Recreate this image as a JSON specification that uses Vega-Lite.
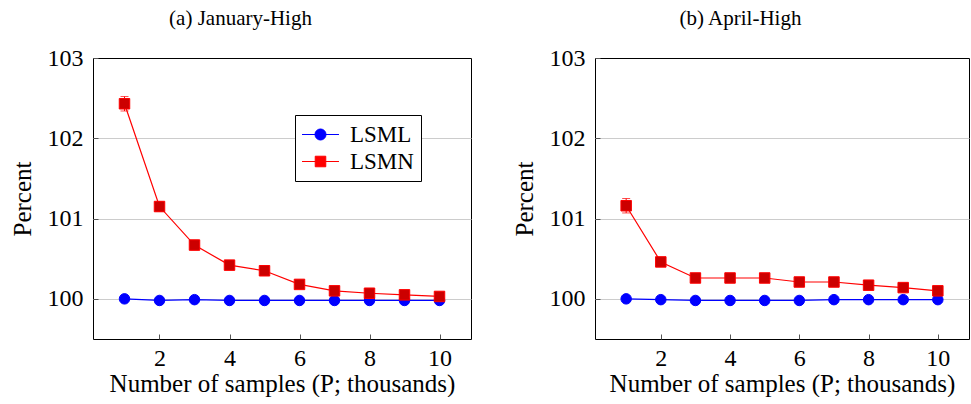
{
  "$schema": "https://vega.github.io/schema/vega-lite/v6.json",
  "padding": {"left": 9, "top": 7, "right": 0, "bottom": 0},
  "spacing": 39,
  "config": {
    "font": "Liberation Serif",
    "view": {"stroke": "black", "strokeWidth": 1},
    "style": {"guide-label": {"font": "Liberation Serif"}, "guide-title": {"font": "Liberation Serif"}},
    "axis": {
      "labelFont": "Liberation Serif", "titleFont": "Liberation Serif",
      "labelFontSize": 24, "titleFontSize": 25, "titleFontWeight": "normal",
      "labelColor": "black", "titleColor": "black",
      "domain": false, "tickColor": "#555555", "grid": false
    },
    "legend": {"labelFont": "Liberation Serif"},
    "title": {"font": "Liberation Serif", "fontSize": 21, "fontWeight": "normal", "color": "black"}
  },
  "datasets": {
    "jan": [
      {"p": 1, "series": "LSML", "v": 100.00, "lo": 99.99, "hi": 100.01},
      {"p": 2, "series": "LSML", "v": 99.98, "lo": 99.97, "hi": 99.99},
      {"p": 3, "series": "LSML", "v": 99.99, "lo": 99.98, "hi": 100.00},
      {"p": 4, "series": "LSML", "v": 99.98, "lo": 99.97, "hi": 99.99},
      {"p": 5, "series": "LSML", "v": 99.98, "lo": 99.97, "hi": 99.99},
      {"p": 6, "series": "LSML", "v": 99.98, "lo": 99.97, "hi": 99.99},
      {"p": 7, "series": "LSML", "v": 99.98, "lo": 99.97, "hi": 99.99},
      {"p": 8, "series": "LSML", "v": 99.98, "lo": 99.97, "hi": 99.99},
      {"p": 9, "series": "LSML", "v": 99.98, "lo": 99.97, "hi": 99.99},
      {"p": 10, "series": "LSML", "v": 99.98, "lo": 99.97, "hi": 99.99},
      {"p": 1, "series": "LSMN", "v": 102.43, "lo": 102.34, "hi": 102.52},
      {"p": 2, "series": "LSMN", "v": 101.15, "lo": 101.09, "hi": 101.21},
      {"p": 3, "series": "LSMN", "v": 100.67, "lo": 100.61, "hi": 100.73},
      {"p": 4, "series": "LSMN", "v": 100.42, "lo": 100.37, "hi": 100.47},
      {"p": 5, "series": "LSMN", "v": 100.35, "lo": 100.31, "hi": 100.39},
      {"p": 6, "series": "LSMN", "v": 100.18, "lo": 100.15, "hi": 100.21},
      {"p": 7, "series": "LSMN", "v": 100.10, "lo": 100.08, "hi": 100.12},
      {"p": 8, "series": "LSMN", "v": 100.07, "lo": 100.05, "hi": 100.09},
      {"p": 9, "series": "LSMN", "v": 100.05, "lo": 100.03, "hi": 100.07},
      {"p": 10, "series": "LSMN", "v": 100.03, "lo": 100.01, "hi": 100.05}
    ],
    "apr": [
      {"p": 1, "series": "LSML", "v": 100.00, "lo": 99.99, "hi": 100.01},
      {"p": 2, "series": "LSML", "v": 99.99, "lo": 99.98, "hi": 100.00},
      {"p": 3, "series": "LSML", "v": 99.98, "lo": 99.97, "hi": 99.99},
      {"p": 4, "series": "LSML", "v": 99.98, "lo": 99.97, "hi": 99.99},
      {"p": 5, "series": "LSML", "v": 99.98, "lo": 99.97, "hi": 99.99},
      {"p": 6, "series": "LSML", "v": 99.98, "lo": 99.97, "hi": 99.99},
      {"p": 7, "series": "LSML", "v": 99.99, "lo": 99.98, "hi": 100.00},
      {"p": 8, "series": "LSML", "v": 99.99, "lo": 99.98, "hi": 100.00},
      {"p": 9, "series": "LSML", "v": 99.99, "lo": 99.98, "hi": 100.00},
      {"p": 10, "series": "LSML", "v": 99.99, "lo": 99.98, "hi": 100.00},
      {"p": 1, "series": "LSMN", "v": 101.16, "lo": 101.07, "hi": 101.25},
      {"p": 2, "series": "LSMN", "v": 100.46, "lo": 100.41, "hi": 100.51},
      {"p": 3, "series": "LSMN", "v": 100.26, "lo": 100.23, "hi": 100.29},
      {"p": 4, "series": "LSMN", "v": 100.26, "lo": 100.23, "hi": 100.29},
      {"p": 5, "series": "LSMN", "v": 100.26, "lo": 100.23, "hi": 100.29},
      {"p": 6, "series": "LSMN", "v": 100.21, "lo": 100.18, "hi": 100.24},
      {"p": 7, "series": "LSMN", "v": 100.21, "lo": 100.18, "hi": 100.24},
      {"p": 8, "series": "LSMN", "v": 100.17, "lo": 100.15, "hi": 100.19},
      {"p": 9, "series": "LSMN", "v": 100.14, "lo": 100.12, "hi": 100.16},
      {"p": 10, "series": "LSMN", "v": 100.10, "lo": 100.08, "hi": 100.12}
    ]
  },
  "resolve": {"legend": {"color": "independent"}},
  "hconcat": [
    {
      "width": 378, "height": 281,
      "data": {"name": "jan"},
      "title": {"text": "(a) January-High", "frame": "bounds", "anchor": "middle", "offset": 17},
      "encoding": {
        "x": {"field": "p", "type": "quantitative", "scale": {"domain": [0.1, 10.9], "nice": false, "zero": false},
          "axis": {"title": "Number of samples (P; thousands)", "values": [2, 4, 6, 8, 10], "tickSize": -5, "labelPadding": 12, "titlePadding": 1,
            "labelFont": "Liberation Serif", "titleFont": "Liberation Serif"}},
        "y": {"field": "v", "type": "quantitative", "scale": {"domain": [99.5, 103], "nice": false, "zero": false},
          "axis": {"title": "Percent", "values": [100, 101, 102, 103], "grid": true, "gridColor": "#cccccc",
            "gridOpacity": {"condition": {"test": "datum.value >= 103", "value": 0}, "value": 1},
            "tickSize": -5, "labelPadding": 15, "titlePadding": 12, "labelFont": "Liberation Serif", "titleFont": "Liberation Serif"}},
        "color": {"field": "series", "type": "nominal", "scale": {"domain": ["LSML", "LSMN"], "range": ["#0000ff", "#ff0000"]},
          "legend": {"orient": "none", "legendX": 202, "legendY": 57, "title": null,
            "strokeColor": "black", "fillColor": "white", "padding": 7, "cornerRadius": 0,
            "labelFont": "Liberation Serif", "labelFontSize": 23, "labelColor": "black",
            "symbolSize": 576, "symbolStrokeWidth": 1, "symbolOffset": 6, "labelOffset": 17, "rowPadding": 2,
            "encode": {"symbols": {"update": {
              "shape": {"signal": "datum.value === 'LSML' ? 'M-1.54,0H1.54M0.46,0A0.46,0.46,0,1,1,-0.46,0A0.46,0.46,0,1,1,0.46,0Z' : 'M-1.54,0H1.54M-0.44,-0.44H0.44V0.44H-0.44Z'"},
              "fill": {"signal": "datum.value === 'LSML' ? '#0000ff' : '#cc0000'"},
              "stroke": {"signal": "datum.value === 'LSML' ? '#0000ff' : '#ff0000'"},
              "fillOpacity": {"value": 1},
              "opacity": {"value": 1}
            }}, "labels": {"update": {"font": {"value": "Liberation Serif"}}}}}}
      },
      "layer": [
        {
          "mark": {"type": "rule", "strokeWidth": 1},
          "encoding": {
            "y": {"field": "lo", "type": "quantitative", "title": "Percent", "scale": {"domain": [99.5, 103], "nice": false, "zero": false}},
            "y2": {"field": "hi"}
          }
        },
        {
          "mark": {"type": "tick", "orient": "horizontal", "size": 8, "thickness": 1},
          "encoding": {"y": {"field": "lo", "type": "quantitative", "title": "Percent", "scale": {"domain": [99.5, 103], "nice": false, "zero": false}}}
        },
        {
          "mark": {"type": "tick", "orient": "horizontal", "size": 8, "thickness": 1},
          "encoding": {"y": {"field": "hi", "type": "quantitative", "title": "Percent", "scale": {"domain": [99.5, 103], "nice": false, "zero": false}}}
        },
        {"mark": {"type": "line", "strokeWidth": 1.2}},
        {
          "mark": {"type": "point", "filled": true, "size": 110, "strokeWidth": 1, "opacity": 1},
          "encoding": {
            "shape": {"field": "series", "type": "nominal", "scale": {"domain": ["LSML", "LSMN"], "range": ["circle", "square"]}, "legend": null},
            "fill": {"field": "series", "type": "nominal", "scale": {"domain": ["LSML", "LSMN"], "range": ["#0000ff", "#cc0000"]}, "legend": null},
            "stroke": {"field": "series", "type": "nominal", "scale": {"domain": ["LSML", "LSMN"], "range": ["#0000ff", "#ff0000"]}, "legend": null}
          }
        }
      ]
    },
    {
      "width": 374, "height": 281,
      "data": {"name": "apr"},
      "title": {"text": "(b) April-High", "frame": "bounds", "anchor": "middle", "offset": 17},
      "encoding": {
        "x": {"field": "p", "type": "quantitative", "scale": {"domain": [0.1, 10.9], "nice": false, "zero": false},
          "axis": {"title": "Number of samples (P; thousands)", "values": [2, 4, 6, 8, 10], "tickSize": -5, "labelPadding": 12, "titlePadding": 1,
            "labelFont": "Liberation Serif", "titleFont": "Liberation Serif"}},
        "y": {"field": "v", "type": "quantitative", "scale": {"domain": [99.5, 103], "nice": false, "zero": false},
          "axis": {"title": "Percent", "values": [100, 101, 102, 103], "grid": true, "gridColor": "#cccccc",
            "gridOpacity": {"condition": {"test": "datum.value >= 103", "value": 0}, "value": 1},
            "tickSize": -5, "labelPadding": 15, "titlePadding": 12, "labelFont": "Liberation Serif", "titleFont": "Liberation Serif"}},
        "color": {"field": "series", "type": "nominal", "scale": {"domain": ["LSML", "LSMN"], "range": ["#0000ff", "#ff0000"]}, "legend": null}
      },
      "layer": [
        {
          "mark": {"type": "rule", "strokeWidth": 1},
          "encoding": {
            "y": {"field": "lo", "type": "quantitative", "title": "Percent", "scale": {"domain": [99.5, 103], "nice": false, "zero": false}},
            "y2": {"field": "hi"}
          }
        },
        {
          "mark": {"type": "tick", "orient": "horizontal", "size": 8, "thickness": 1},
          "encoding": {"y": {"field": "lo", "type": "quantitative", "title": "Percent", "scale": {"domain": [99.5, 103], "nice": false, "zero": false}}}
        },
        {
          "mark": {"type": "tick", "orient": "horizontal", "size": 8, "thickness": 1},
          "encoding": {"y": {"field": "hi", "type": "quantitative", "title": "Percent", "scale": {"domain": [99.5, 103], "nice": false, "zero": false}}}
        },
        {"mark": {"type": "line", "strokeWidth": 1.2}},
        {
          "mark": {"type": "point", "filled": true, "size": 110, "strokeWidth": 1, "opacity": 1},
          "encoding": {
            "shape": {"field": "series", "type": "nominal", "scale": {"domain": ["LSML", "LSMN"], "range": ["circle", "square"]}, "legend": null},
            "fill": {"field": "series", "type": "nominal", "scale": {"domain": ["LSML", "LSMN"], "range": ["#0000ff", "#cc0000"]}, "legend": null},
            "stroke": {"field": "series", "type": "nominal", "scale": {"domain": ["LSML", "LSMN"], "range": ["#0000ff", "#ff0000"]}, "legend": null}
          }
        }
      ]
    }
  ]
}
